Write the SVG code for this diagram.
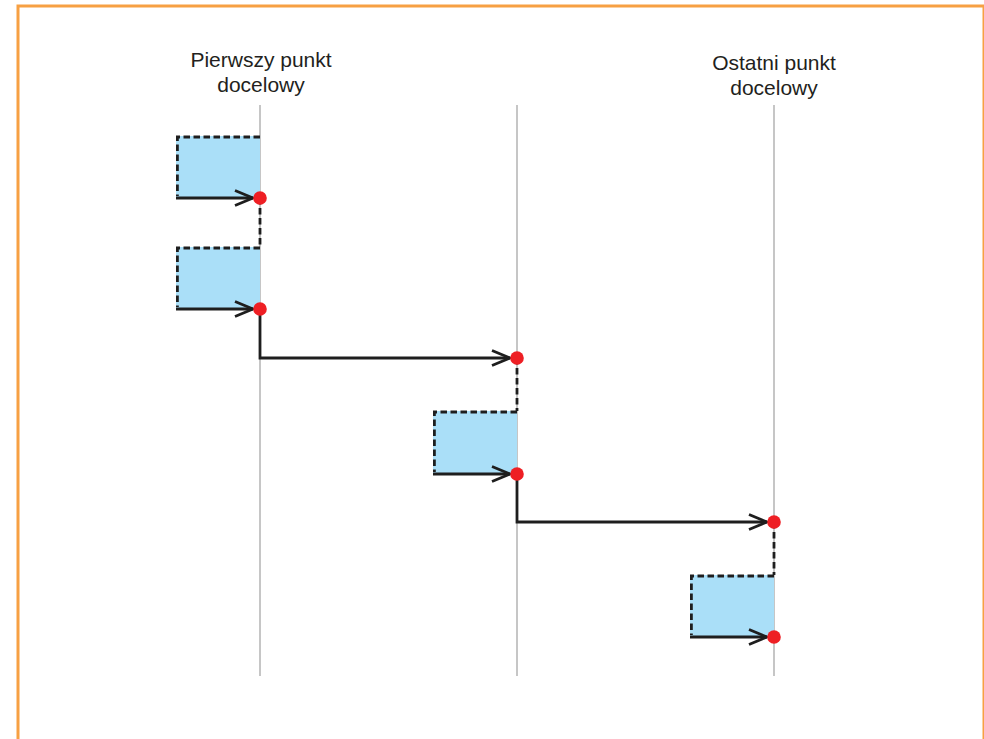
<svg xmlns="http://www.w3.org/2000/svg" width="984" height="739" viewBox="0 0 984 739">
  <style>
    .frame { fill: none; stroke: #f7a043; stroke-width: 3; }
    .axis { stroke: #c6c6c6; stroke-width: 2; }
    .slot { fill: #aadff8; stroke: none; }
    .dash { fill: none; stroke: #1e1e1e; stroke-width: 2.8; stroke-dasharray: 6.5 3.5; }
    .flow { fill: none; stroke: #1e1e1e; stroke-width: 2.8; }
    .head { fill: none; stroke: #1e1e1e; stroke-width: 2.8; stroke-linejoin: miter; }
    .pt { fill: #ee1f24; }
    .lbl { font-family: "Liberation Sans", Arial, sans-serif; font-size: 21px; fill: #231f20; text-anchor: middle; }
  </style>
  <defs>
    <marker id="open" markerUnits="userSpaceOnUse" markerWidth="26" markerHeight="22" refX="19" refY="9" orient="auto">
      <path class="head" d="M1,1.5 L19,9 L1,16.5"/>
    </marker>
  </defs>

  <rect class="frame" x="18" y="6" width="966" height="800"/>

  <g id="labels">
    <text class="lbl" x="261" y="67">Pierwszy punkt</text>
    <text class="lbl" x="261" y="92">docelowy</text>
    <text class="lbl" x="774" y="70">Ostatni punkt</text>
    <text class="lbl" x="774" y="95">docelowy</text>
  </g>

  <g id="axes">
    <line class="axis" x1="260" y1="105" x2="260" y2="676"/>
    <line class="axis" x1="517" y1="105" x2="517" y2="676"/>
    <line class="axis" x1="774" y1="105" x2="774" y2="676"/>
  </g>

  <g id="slot1">
    <rect class="slot" x="176" y="136" width="84" height="62"/>
    <path class="dash" d="M260,137 H177.4 V196"/>
  </g>
  <g id="slot2">
    <rect class="slot" x="176" y="247" width="84" height="62"/>
    <path class="dash" d="M260,248 H177.4 V307"/>
  </g>
  <g id="slot3">
    <rect class="slot" x="433" y="411" width="84" height="63"/>
    <path class="dash" d="M517,412 H434.4 V472"/>
  </g>
  <g id="slot4">
    <rect class="slot" x="690" y="575" width="84" height="62"/>
    <path class="dash" d="M774,576 H691.4 V635"/>
  </g>

  <g id="connectors">
    <line class="flow" x1="176" y1="198" x2="253" y2="198" marker-end="url(#open)"/>
    <line class="flow" x1="176" y1="309" x2="253" y2="309" marker-end="url(#open)"/>
    <line class="flow" x1="433" y1="474" x2="510" y2="474" marker-end="url(#open)"/>
    <line class="flow" x1="690" y1="637" x2="767" y2="637" marker-end="url(#open)"/>
    <path class="dash" d="M260,198 V247"/>
    <path class="dash" d="M517,358 V411"/>
    <path class="dash" d="M774,522 V575"/>
    <path class="flow" d="M260,309 V358 H510" marker-end="url(#open)"/>
    <path class="flow" d="M517,474 V522 H767" marker-end="url(#open)"/>
  </g>

  <g id="points">
    <circle class="pt" cx="260" cy="198" r="6.8"/>
    <circle class="pt" cx="260" cy="309" r="6.8"/>
    <circle class="pt" cx="517" cy="358" r="6.8"/>
    <circle class="pt" cx="517" cy="474" r="6.8"/>
    <circle class="pt" cx="774" cy="522" r="6.8"/>
    <circle class="pt" cx="774" cy="637" r="6.8"/>
  </g>
</svg>
